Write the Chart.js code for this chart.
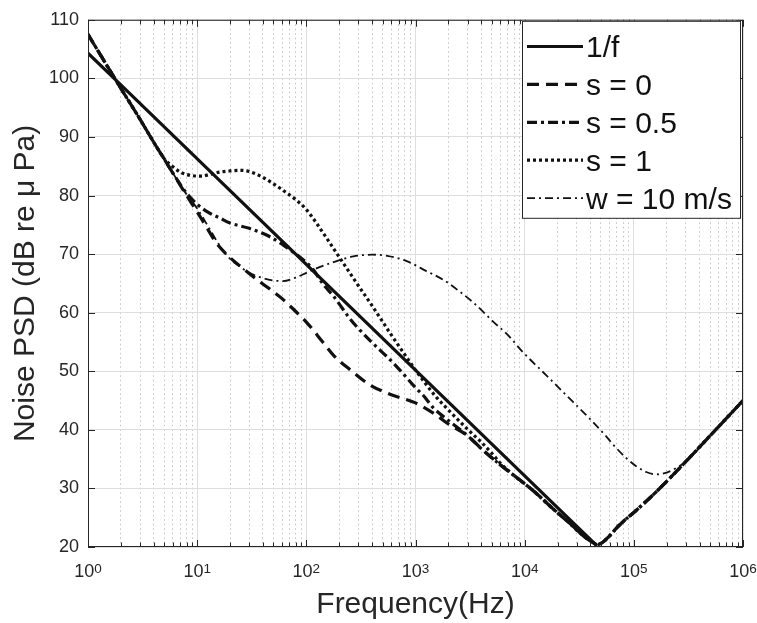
<!DOCTYPE html>
<html>
<head>
<meta charset="utf-8">
<script src="https://cdn.jsdelivr.net/npm/chart.js@4.4.0/dist/chart.umd.min.js"></script>
<style>
    html, body { margin: 0; padding: 0; background: #fff; }
</style>
</head>
<body>
<canvas id="psd-chart" width="757" height="623"></canvas>
<script>
var FONT = '"Liberation Sans", Arial, Helvetica, sans-serif';
var INK = '#262626';

// axis ticks
var yTickValues = [20, 30, 40, 50, 60, 70, 80, 90, 100, 110];
var xDecades = [1, 10, 100, 1000, 10000, 100000, 1000000];
var xDecadeExp = ['0', '1', '2', '3', '4', '5', '6'];

var seriesNames = ['1/f', 's = 0', 's = 0.5', 's = 1', 'w = 10 m/s'];

// 1/f reference
var freqInv = [1, 46000];
var psdInv = [104.3, 20.2];

// part shared by the s curves once they merge (and w above 2.4e5)
var tailFreq = [3000, 4000, 6000, 8000, 12000, 18000, 25000, 35000, 42000, 46000,
    50000, 60000, 70000, 85000, 100000, 150000, 200000, 300000, 500000, 1000000];
var tailPsd = [39.0, 36.8, 34.0, 32.2, 29.6, 26.6, 24.3, 21.8, 20.8, 20.4,
    20.6, 21.9, 23.3, 24.8, 25.9, 28.9, 31.2, 34.6, 39.0, 45.0];

var freqS0 = [1, 1.5, 2, 3, 4, 5, 6, 8, 10, 12, 15, 20, 25, 35, 45, 60, 80, 100, 140, 180,
    250, 380, 600, 1000, 1500, 2000];
var psdS0 = [107.5, 102.1, 98.3, 93.0, 89.1, 86.2, 83.8, 80.0, 77.2, 74.8, 71.9, 69.4, 67.9, 65.7, 64.2, 62.4, 60.2, 58.4, 55.1, 52.6,
    50.3, 47.7, 46.0, 44.6, 42.7, 41.0];

var freqS05 = [1, 1.5, 2, 3, 4, 5, 6, 8, 10, 13, 16, 20, 30, 46, 60, 71, 94, 115, 142, 176,
    200, 250, 290, 400, 583, 720, 1000, 1175, 1450, 2000];
var psdS05 = [107.5, 102.1, 98.3, 93.0, 89.1, 86.2, 83.8, 80.4, 78.5, 77.0, 76.2, 75.3, 74.4, 73.0, 71.7, 70.7, 69.0, 67.4, 64.9, 62.9,
    61.5, 59.0, 57.6, 54.9, 52.0, 50.2, 47.2, 45.9, 43.8, 41.6];

var freqS1 = [1, 1.5, 2, 3, 4, 5, 6, 7, 8, 9, 11, 13, 16, 20, 25, 30, 40, 50, 60, 80,
    100, 150, 200, 300, 400, 600, 800, 1000, 1500, 2000, 3000, 4000, 5000, 6000];
var psdS1 = [107.5, 102.1, 98.3, 93.0, 89.1, 86.3, 84.9, 84.0, 83.6, 83.4, 83.3, 83.6, 84.0, 84.2, 84.3, 84.1, 83.1, 82.0, 81.0, 79.3,
    77.6, 73.0, 69.5, 64.6, 61.2, 56.2, 52.8, 50.2, 45.9, 43.4, 40.1, 37.9, 36.0, 34.3];

var freqW = [1, 1.5, 2, 3, 4, 5, 6, 8, 10, 13, 16, 20, 25, 30, 40, 50, 61, 80, 100, 125,
    175, 270, 400, 550, 830, 1260, 1800, 2500, 3400, 5200, 7000, 9600, 15800, 27600, 40000,
    55000, 69000, 85000, 105000, 130000, 162000, 200000, 240000];
var psdW = [107.5, 102.1, 98.3, 93.0, 89.1, 86.2, 83.8, 80.2, 77.8, 74.3, 71.5, 69.2, 67.8, 66.8, 65.9, 65.5, 65.4, 66.0, 66.8, 67.6,
    68.6, 69.6, 69.9, 69.7, 68.8, 67.1, 65.6, 63.7, 61.7, 58.4, 56.2, 53.3, 49.3, 44.8, 41.8,
    39.0, 36.9, 35.2, 33.8, 32.8, 32.4, 32.7, 33.4];

function isDecade(v) {
    var e = Math.log10(v);
    return Math.abs(e - Math.round(e)) < 1e-9;
}

function toPoints(freqs, vals) {
    return freqs.map(function(f, i) {
        return {x: f, y: vals[i]};
    });
}

function withTail(freqs, vals) {
    var pts = toPoints(freqs, vals);
    var last = freqs[freqs.length - 1];
    tailFreq.forEach(function(f, i) {
        if (f > last) {
            pts.push({x: f, y: tailPsd[i]});
        }
    });
    return pts;
}

function lineSet(label, data, width, dash) {
    return {
        label: label,
        data: data,
        borderColor: '#111',
        backgroundColor: '#111',
        borderWidth: width,
        borderDash: dash,
        borderCapStyle: 'butt',
        pointRadius: 0,
        fill: false,
        cubicInterpolationMode: 'monotone'
    };
}

var framePlugin = {
    id: 'frame',
    afterDatasetsDraw: function(chart) {
        var ctx = chart.ctx;
        var a = chart.chartArea;
        var xs = chart.scales.x;
        var ys = chart.scales.y;

        ctx.save();
        ctx.setLineDash([]);
        ctx.strokeStyle = INK;
        ctx.lineWidth = 1;

        // inward ticks on all four sides
        ctx.beginPath();
        xs.ticks.forEach(function(t) {
            var px = Math.round(xs.getPixelForValue(t.value)) + 0.5;
            var len = isDecade(t.value) ? 7 : 4.5;
            ctx.moveTo(px, a.bottom);
            ctx.lineTo(px, a.bottom - len);
            ctx.moveTo(px, a.top);
            ctx.lineTo(px, a.top + len);
        });
        yTickValues.forEach(function(v) {
            var py = Math.round(ys.getPixelForValue(v)) + 0.5;
            ctx.moveTo(a.left, py);
            ctx.lineTo(a.left + 7, py);
            ctx.moveTo(a.right, py);
            ctx.lineTo(a.right - 7, py);
        });
        ctx.stroke();
        ctx.strokeRect(a.left + 0.5, a.top + 0.5, a.right - a.left - 1, a.bottom - a.top - 1);

        // legend
        var lx = a.right - 221;
        var ly = a.top + 1;
        var lw = 218;
        var lh = 197;
        ctx.fillStyle = '#fff';
        ctx.fillRect(lx, ly, lw, lh);
        ctx.strokeRect(lx + 0.5, ly + 0.5, lw, lh);

        chart.data.datasets.forEach(function(ds, i) {
            var cy = ly + 25.7 + i * 37.9;
            ctx.beginPath();
            ctx.lineWidth = ds.borderWidth;
            ctx.lineCap = 'butt';
            ctx.strokeStyle = ds.borderColor;
            ctx.setLineDash(ds.borderDash);
            ctx.moveTo(lx + 5, cy);
            ctx.lineTo(lx + 61, cy);
            ctx.stroke();

            ctx.setLineDash([]);
            ctx.fillStyle = '#111';
            ctx.font = '30px ' + FONT;
            ctx.textAlign = 'left';
            ctx.textBaseline = 'alphabetic';
            ctx.fillText(ds.label, lx + 64, cy + 10.7);
        });
        ctx.restore();
    },
    afterDraw: function(chart) {
        // x tick labels as 10 with raised exponent
        var ctx = chart.ctx;
        var xs = chart.scales.x;
        var base = chart.chartArea.bottom;

        ctx.save();
        ctx.fillStyle = INK;
        ctx.textAlign = 'left';
        ctx.textBaseline = 'alphabetic';
        xDecades.forEach(function(d, i) {
            var px = xs.getPixelForValue(d);
            ctx.font = '18px ' + FONT;
            var w1 = ctx.measureText('10').width;
            ctx.font = '13.5px ' + FONT;
            var w2 = ctx.measureText(xDecadeExp[i]).width;
            var left = px - (w1 + w2) / 2;

            ctx.font = '18px ' + FONT;
            ctx.fillText('10', left, base + 30);
            ctx.font = '13.5px ' + FONT;
            ctx.fillText(xDecadeExp[i], left + w1, base + 25.5);
        });
        ctx.restore();
    }
};

document.addEventListener('DOMContentLoaded', function() {
    var datasets = [
        lineSet(seriesNames[0], toPoints(freqInv, psdInv), 3.2, []),
        lineSet(seriesNames[1], withTail(freqS0, psdS0), 3.2, [12, 7]),
        lineSet(seriesNames[2], withTail(freqS05, psdS05), 3.2, [10, 4, 3, 4]),
        lineSet(seriesNames[3], withTail(freqS1, psdS1), 3.2, [3, 3]),
        lineSet(seriesNames[4], withTail(freqW, psdW), 1.8, [8, 4, 2, 4])
    ];

    new Chart(document.getElementById('psd-chart'), {
        type: 'line',
        data: {datasets: datasets},
        plugins: [framePlugin],
        options: {
            responsive: false,
            animation: false,
            devicePixelRatio: 1,
            layout: {
                padding: {left: 0, right: 14, top: 15, bottom: 0}
            },
            plugins: {
                legend: {display: false},
                tooltip: {enabled: false}
            },
            scales: {
                x: {
                    type: 'logarithmic',
                    min: 1,
                    max: 1000000,
                    afterBuildTicks: function(s) {
                        var ticks = [];
                        xDecades.forEach(function(d, i) {
                            if (i === xDecades.length - 1) {
                                ticks.push({value: d});
                                return;
                            }
                            for (var m = 1; m < 10; ++m) {
                                ticks.push({value: m * d});
                            }
                        });
                        s.ticks = ticks;
                    },
                    afterFit: function(s) {
                        s.height = 76;
                    },
                    ticks: {display: false},
                    grid: {
                        drawTicks: false,
                        lineWidth: 1,
                        color: function(c) {
                            return (c.tick && !isDecade(c.tick.value)) ? '#c2c2c2' : '#dedede';
                        }
                    },
                    border: {
                        display: false,
                        dash: function(c) {
                            return (c.tick && !isDecade(c.tick.value)) ? [1.5, 3] : [];
                        }
                    },
                    title: {
                        display: true,
                        text: 'Frequency(Hz)',
                        color: INK,
                        font: {family: FONT, size: 30},
                        padding: {top: 0, bottom: 0.5}
                    }
                },
                y: {
                    min: 20,
                    max: 110,
                    afterFit: function(s) {
                        s.width = 88;
                    },
                    ticks: {
                        stepSize: 10,
                        padding: 9,
                        color: INK,
                        font: {family: FONT, size: 18}
                    },
                    grid: {
                        drawTicks: false,
                        lineWidth: 1,
                        color: '#dedede'
                    },
                    border: {display: false},
                    title: {
                        display: true,
                        text: 'Noise PSD (dB re \u03bc Pa)',
                        color: INK,
                        font: {family: FONT, size: 30},
                        padding: {top: 7.5, bottom: 0}
                    }
                }
            }
        }
    });
});
</script>
</body>
</html>
